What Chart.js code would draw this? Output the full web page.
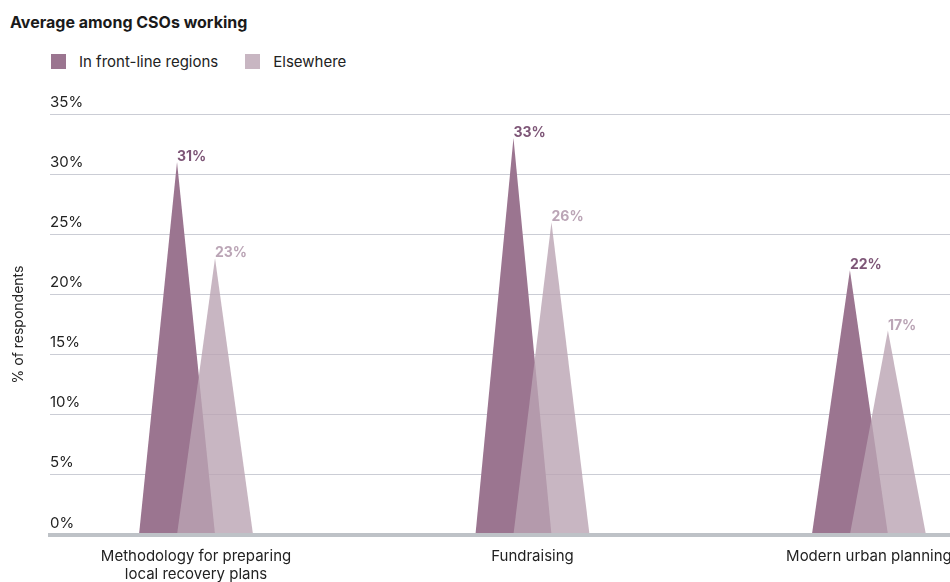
<!DOCTYPE html>
<html>
<head>
<meta charset="utf-8">
<title>Average among CSOs working</title>
<script src="https://cdn.jsdelivr.net/npm/chart.js@4.4.1/dist/chart.umd.min.js"></script>
<style>
  body { margin: 0; background: #fff; font-family: Inter, "Noto Sans", sans-serif; }
  #wrap { position: relative; width: 950px; height: 582px; overflow: hidden; }
  #chart { position: absolute; left: 0; top: 0; }
  .title { position: absolute; left: 10px; top: 12px; font-size: 16px; font-weight: 700; line-height: 20px; color: #1a1a1a; }
  .legend { position: absolute; left: 51px; top: 54px; display: flex; font-size: 15px; line-height: 15px; color: #222; }
  .legend .item { display: flex; align-items: center; margin-right: 27px; }
  .legend .swatch { display: inline-block; width: 15px; height: 15px; margin-right: 13px; }
</style>
</head>
<body>
<div id="wrap">
  <div class="title">Average among CSOs working</div>
  <div class="legend" id="legend"></div>
  <canvas id="chart" width="950" height="582"></canvas>
</div>
<script>
const categories = [['Methodology for preparing', 'local recovery plans'], 'Fundraising', 'Modern urban planning'];
const seriesNames = ['In front-line regions', 'Elsewhere'];
const frontLine = [31, 33, 22];
const elsewhere = [23, 26, 17];
const yMax = 35;
const yStep = 5;

const fillColors = ['#9b7590', 'rgba(186, 164, 179, 0.8)'];
const labelColors = ['#7e5677', '#bba5b6'];
const fontFamily = 'Inter, "Noto Sans", sans-serif';

// legend as plain html above the canvas
const legendEl = document.getElementById('legend');
seriesNames.forEach((name, i) => {
    const item = document.createElement('span');
    item.className = 'item';
    item.innerHTML = `<span class="swatch" style="background:${fillColors[i]}"></span>${name}`;
    legendEl.appendChild(item);
});

// bars are drawn as peaks: base twice the bar width, tip at the value
const peakBars = {
    id: 'peakBars',
    beforeDatasetDraw() {
        return false;
    },
    afterDatasetsDraw(chart) {
        const ctx = chart.ctx;
        ctx.save();
        chart.data.datasets.forEach((ds, i) => {
            const meta = chart.getDatasetMeta(i);
            ctx.fillStyle = fillColors[i];
            meta.data.forEach(bar => {
                ctx.beginPath();
                ctx.moveTo(bar.x - bar.width, bar.base);
                ctx.lineTo(bar.x, bar.y);
                ctx.lineTo(bar.x + bar.width, bar.base);
                ctx.closePath();
                ctx.fill();
            });
        });
        // value labels sit just right of each tip
        ctx.font = `700 14px ${fontFamily}`;
        ctx.textAlign = 'left';
        ctx.textBaseline = 'alphabetic';
        chart.data.datasets.forEach((ds, i) => {
            const meta = chart.getDatasetMeta(i);
            ctx.fillStyle = labelColors[i];
            meta.data.forEach((bar, j) => {
                ctx.fillText(ds.data[j].y + '%', bar.x, bar.y - 1);
            });
        });
        ctx.restore();
    }
};

const ctx = document.getElementById('chart').getContext('2d');
new Chart(ctx, {
    type: 'bar',
    data: {
        datasets: [{
            label: seriesNames[0],
            data: frontLine.map((v, i) => ({ x: i, y: v })),
            backgroundColor: fillColors[0]
        }, {
            label: seriesNames[1],
            data: elsewhere.map((v, i) => ({ x: i, y: v })),
            backgroundColor: fillColors[1]
        }]
    },
    options: {
        responsive: false,
        animation: false,
        events: [],
        barThickness: 38,
        layout: {
            padding: { left: 10, top: 114, right: 0, bottom: -13 }
        },
        plugins: {
            legend: { display: false },
            tooltip: { enabled: false }
        },
        scales: {
            x: {
                type: 'linear',
                offset: false,
                min: -0.434,
                max: 2.241,
                grid: { display: false, drawTicks: false },
                border: { display: true, color: '#bec2c7', width: 4, z: 1 },
                afterBuildTicks: scale => {
                    scale.ticks = categories.map((c, i) => ({ value: i }));
                },
                afterFit: scale => {
                    scale.paddingLeft = 0;
                    scale.paddingRight = 0;
                },
                ticks: {
                    padding: 12,
                    color: '#222',
                    font: { family: fontFamily, size: 15, lineHeight: 1.2 },
                    maxRotation: 0,
                    autoSkip: false,
                    callback: value => categories[value]
                }
            },
            y: {
                min: 0,
                max: yMax,
                grid: { color: '#cbcdd5', lineWidth: 1, drawTicks: false },
                border: { display: false },
                ticks: {
                    stepSize: yStep,
                    mirror: true,
                    padding: 0,
                    labelOffset: -12,
                    color: '#222',
                    font: { family: fontFamily, size: 15 },
                    callback: value => value + '%'
                },
                title: {
                    display: true,
                    text: '% of respondents',
                    color: '#222',
                    font: { family: fontFamily, size: 14, lineHeight: 1.2 },
                    padding: { top: 0, bottom: 23.2 }
                }
            }
        }
    },
    plugins: [peakBars]
});
</script>
</body>
</html>
